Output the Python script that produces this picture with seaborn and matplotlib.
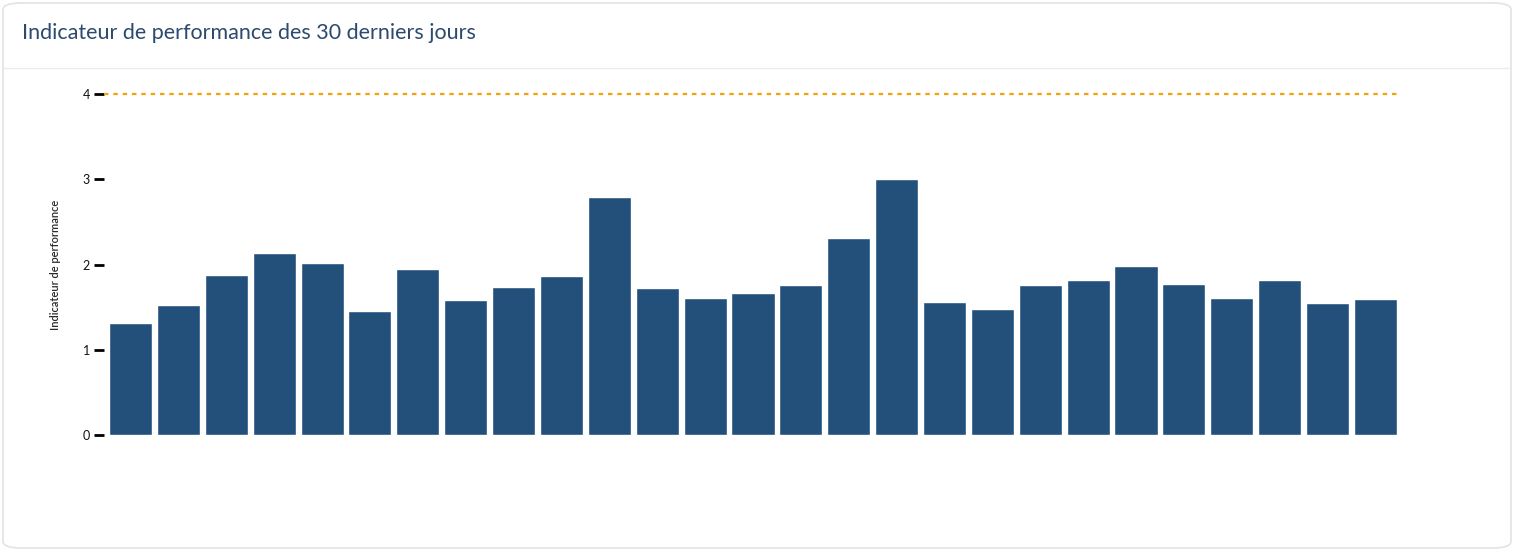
import pandas as pd
import numpy as np
import seaborn as sns
import matplotlib.pyplot as plt
from matplotlib.patches import FancyBboxPatch
from matplotlib.lines import Line2D

sns.set_style("white")
plt.rcParams['font.family'] = ['Lato', 'DejaVu Sans']

# valeurs (27 jours)
jours = [str(i) for i in range(1, 28)]
valeurs = [1.31, 1.52, 1.88, 2.13, 2.02, 1.45, 1.95, 1.58, 1.74, 1.87,
           2.79, 1.72, 1.61, 1.67, 1.76, 2.31, 3.00, 1.56, 1.48, 1.76,
           1.82, 1.98, 1.77, 1.61, 1.82, 1.55, 1.60]
objectif = 4
yticks = [0, 1, 2, 3, 4]

df = pd.DataFrame({'jour': jours, 'valeur': valeurs})

fig = plt.figure(figsize=(15.17, 5.51), dpi=100)

# carte (derriere les axes)
card = FancyBboxPatch((3 / 1517, 3 / 551), 1508 / 1517, 545 / 551,
                      boxstyle="round,pad=0,rounding_size=0.012",
                      transform=fig.transFigure, facecolor='white',
                      edgecolor='#e3e3e3', linewidth=1.2, zorder=-5)
fig.patches.append(card)
fig.add_artist(Line2D([4 / 1517, 1510 / 1517], [1 - 68 / 551, 1 - 68 / 551],
                      transform=fig.transFigure, color='#ececec', linewidth=1,
                      zorder=-4))
fig.text(22 / 1517, 1 - 33 / 551, "Indicateur de performance des 30 derniers jours",
         fontsize=15.5, color='#2c4a6e', va='center', ha='left')

ax = fig.add_axes([104 / 1517, 116 / 551, 1293 / 1517, 341 / 551])
ax.set_zorder(2)
sns.barplot(data=df, x='jour', y='valeur', color='#22507a', saturation=1,
            width=0.9, ax=ax)
ax.axhline(objectif, color='#f0a30a', linestyle=(0, (2, 2.2)), linewidth=1.6,
           clip_on=False)

ax.set_xlim(-0.554, 26.45)
ax.set_ylim(0, 4)
ax.set_xticks([])
ax.set_yticks(yticks)
ax.set_yticklabels([str(t) for t in yticks], fontsize=9, color='#111111')
ax.tick_params(axis='y', length=7, width=2, color='black', pad=3, left=True)
ax.set_xlabel('')
ax.set_ylabel('Indicateur de performance', fontsize=8, color='#2a2a2a',
              fontweight='semibold', labelpad=16)
sns.despine(ax=ax, left=True, bottom=True)
ax.patch.set_alpha(0)

fig.savefig('out.png', dpi=100)
